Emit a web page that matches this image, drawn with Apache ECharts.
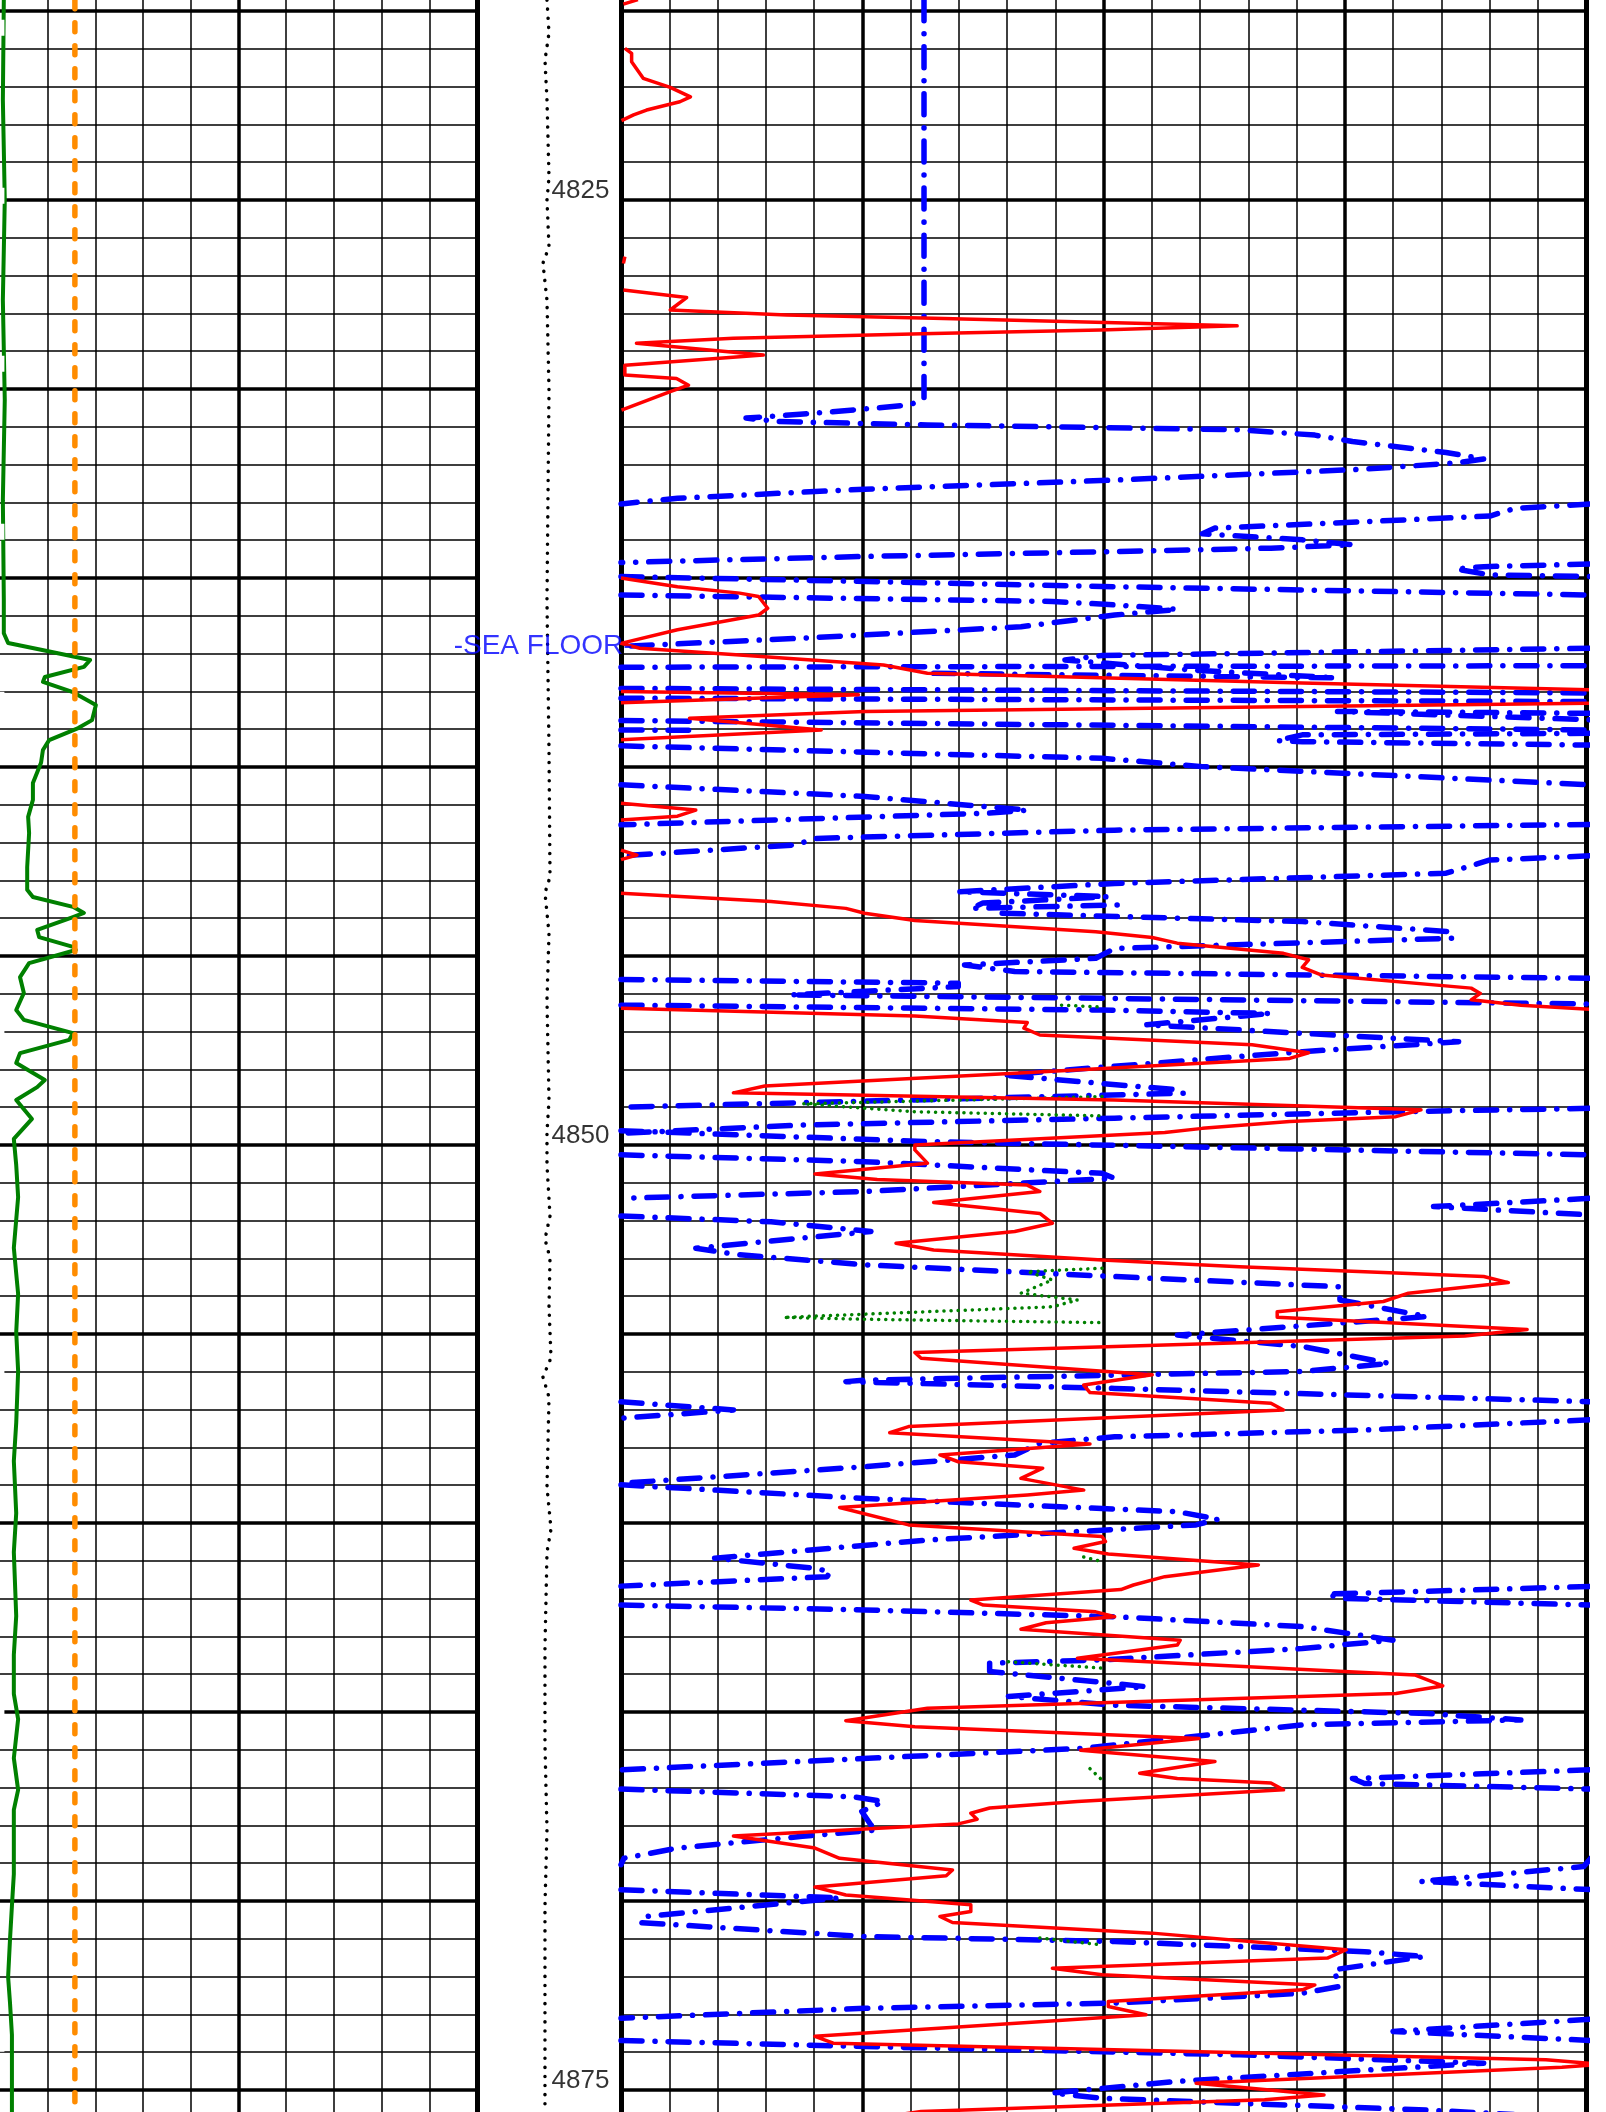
<!DOCTYPE html>
<html>
<head>
<meta charset="utf-8">
<script src="https://cdn.jsdelivr.net/npm/echarts@6/dist/echarts.min.js"></script>
<style>
  html, body { margin: 0; padding: 0; background: #ffffff; overflow: hidden; width: 1606px; height: 2112px; }
  #log { position: absolute; left: 0; width: 1606px; }
</style>
</head>
<body>
<div id="log"></div>
<script>
// Depth window (ft) and annotated depths
const depthTop = 4815;
const depthBottom = 4880;
const depthLabels = [4825, 4850, 4875];
const seaFloorDepth = 4836.8;

// Left track (10 divisions): green curve, orange reference, white trace
const greenLeft = [
  [0.08,4819.71],[0.06,4822.35],[0.1,4825],[0.06,4827.65],[0.1,4830.29],[0.06,4832.94],[0.08,4835.58],
  [0.08,4836.46],[0.17,4836.72],[0.86,4836.9],[1.89,4837.17],[1.76,4837.35],[0.94,4837.62],[0.9,4837.75],
  [1.53,4838.02],[2.01,4838.36],[1.93,4838.76],[1.64,4838.97],[1.03,4839.29],[0.9,4839.55],[0.86,4839.89],
  [0.69,4840.42],[0.69,4840.87],[0.59,4841.32],[0.61,4841.75],[0.57,4842.65],[0.57,4843.25],[0.69,4843.44],
  [1.53,4843.7],[1.76,4843.86],[1.53,4843.97],[0.78,4844.31],[0.82,4844.5],[1.53,4844.76],[1.59,4844.84],
  [0.61,4845.19],[0.42,4845.56],[0.5,4845.98],[0.34,4846.43],[0.5,4846.69],[1.53,4847.04],[1.45,4847.22],
  [0.42,4847.57],[0.34,4847.83],[0.94,4848.28],[0.78,4848.47],[0.34,4848.81],[0.67,4849.31],[0.29,4849.84],
  [0.34,4850.53],[0.38,4851.38],[0.29,4852.72],[0.38,4853.94],[0.34,4854.95],[0.38,4855.98],[0.34,4857.35],
  [0.29,4858.36],[0.34,4859.74],[0.29,4860.77],[0.34,4862.46],[0.29,4863.49],[0.29,4864.52],[0.38,4865.19],
  [0.29,4866.22],[0.38,4867.06],[0.29,4867.59],[0.29,4869.29],[0.25,4870.13],[0.21,4871.01],[0.17,4872.01],
  [0.21,4872.7],[0.25,4873.54],[0.25,4875.58]
];
const orangeLine = [[1.57,4819.7],[1.57,4875.6]];
const whiteTrace = [[0.04,4819.7],[0.04,4875.6]];

// Depth track: dotted curve (10 divisions across the track)
const depthTrackDots = [
  [4.86,4819.71],[5.0,4820.58],[4.72,4821.3],[4.86,4822.35],[5.0,4824.39],[4.86,4825],[5.0,4826.24],
  [4.58,4826.67],[4.86,4827.65],[5.0,4830.03],[4.86,4835.58],[5.0,4839.55],[5.07,4842.91],[4.72,4843.33],
  [5.0,4844.39],[4.86,4846.16],[5.0,4848.81],[4.86,4849.66],[4.86,4850.53],[5.07,4851.88],[4.72,4852.49],
  [5.07,4852.99],[5.0,4854.26],[5.14,4855.63],[4.58,4856.14],[5.0,4856.67],[4.86,4859.05],[5.14,4860.16],
  [4.86,4860.77],[4.72,4863.31],[4.72,4865.87],[4.86,4868.1],[4.72,4870.13],[4.72,4873.54],[4.72,4875.58]
];

// Right track (20 divisions): red curve, split where it leaves the track
const redSegments = [
  [[0.35,4819.7],[0.05,4819.82]],
  [[0.08,4820.99],[0.22,4821.12],[0.22,4821.34],[0.46,4821.78],[1.02,4822.02],[1.44,4822.27],[1.22,4822.4],
   [0.53,4822.62],[0.26,4822.75],[0.01,4822.9]],
  [[0.08,4826.5],[0.05,4826.68]],
  [[0.05,4827.38],[1.36,4827.58],[1.02,4827.91],[3.43,4828.04],[6.47,4828.13],[12.77,4828.33],[9.93,4828.44],
   [6.47,4828.53],[2.33,4828.66],[0.32,4828.79],[2.95,4829.1],[0.08,4829.37],[0.08,4829.63],[1.15,4829.72],
   [1.4,4829.9],[1.02,4830.07],[0.01,4830.56]],
  [[0,4835.0],[1.17,4835.23],[2.46,4835.4],[2.85,4835.49],[3.04,4835.8],[2.85,4835.98],[1.17,4836.37],[0,4836.73],
   [0.39,4836.86],[2.46,4837.04],[5.44,4837.3],[6.35,4837.52],[14.12,4837.78],[20.1,4837.96]],
  [[0,4838.0],[4.92,4838.09],[0,4838.3]],
  [[20.1,4838.31],[5.05,4838.53],[1.42,4838.71],[4.15,4839.02],[0,4839.28]],
  [[0,4840.96],[1.55,4841.14],[1.17,4841.3],[0,4841.4]],
  [[0,4842.2],[0.33,4842.33],[0,4842.45]],
  [[0,4843.34],[3.11,4843.56],[4.66,4843.74],[5.05,4843.87],[6.09,4844.06],[9.84,4844.36],[11.01,4844.51],
   [11.53,4844.66],[13.73,4844.93],[14.25,4845.1],[14.12,4845.3],[14.51,4845.5],[17.62,4845.85],[17.81,4845.99],
   [17.62,4846.16],[18.65,4846.3],[20.1,4846.41]],
  [[0,4846.38],[6.09,4846.59],[8.42,4846.76],[8.35,4846.91],[8.68,4847.09],[13.08,4847.35],[14.25,4847.56],
   [13.86,4847.71],[8.16,4848.1],[2.98,4848.44],[2.33,4848.62],[10.23,4848.81],[16.58,4849.07],[16.06,4849.25],
   [13.86,4849.38],[12.05,4849.56],[11.27,4849.67],[6.09,4850.0],[6.09,4850.13],[6.35,4850.48],[4.02,4850.77],
   [5.31,4850.91],[8.42,4851.06],[8.68,4851.23],[6.48,4851.52],[8.68,4851.81],[8.94,4852.07],[8.16,4852.29],
   [5.7,4852.6],[6.48,4852.78],[9.97,4853.04],[12.82,4853.22],[17.88,4853.48],[18.39,4853.64],[16.32,4853.92],
   [15.8,4854.14],[13.6,4854.41],[13.6,4854.56],[18.78,4854.88],[17.49,4855.05],[6.09,4855.49],[6.22,4855.64],
   [11.01,4856.08],[9.59,4856.35],[9.72,4856.55],[13.47,4856.83],[13.73,4857.01],[5.96,4857.45],[5.57,4857.61],
   [9.72,4857.91],[6.61,4858.2],[6.99,4858.38],[8.74,4858.55],[8.29,4858.82],[9.59,4859.13],[8.42,4859.26],
   [4.53,4859.59],[5.96,4860.05],[9.97,4860.36],[10.04,4860.49],[9.39,4860.67],[10.1,4860.82],[13.21,4861.11],
   [11.27,4861.42],[10.62,4861.64],[10.36,4861.76],[7.25,4862.04],[7.51,4862.17],[9.84,4862.35],[10.23,4862.48],
   [8.81,4862.64],[8.29,4862.81],[11.59,4863.1],[11.53,4863.23],[9.46,4863.58],[16.45,4864.02],[17.03,4864.31],
   [16.06,4864.51],[6.35,4864.9],[4.66,4865.23],[6.09,4865.39],[11.98,4865.7],[9.52,4866.01],[12.31,4866.31],
   [10.75,4866.62],[11.53,4866.76],[13.47,4866.88],[13.73,4867.06],[9.46,4867.37],[7.64,4867.54],[7.25,4867.68],
   [7.38,4867.84],[6.99,4867.96],[2.33,4868.28],[4.02,4868.6],[4.53,4868.87],[6.87,4869.18],[6.74,4869.33],
   [4.02,4869.63],[4.66,4869.84],[7.25,4870.1],[7.25,4870.28],[6.61,4870.41],[6.87,4870.57],[11.01,4870.85],
   [15.03,4871.29],[14.64,4871.51],[8.94,4871.78],[9.97,4871.95],[14.38,4872.22],[14.12,4872.35],[10.1,4872.66],
   [10.1,4872.79],[10.88,4873.01],[9.07,4873.16],[4.02,4873.58],[4.4,4873.76],[19.17,4874.2],[20.3,4874.32],
   [19.5,4874.4],[11.92,4874.82],[14.57,4875.13],[13.34,4875.26],[6.22,4875.57],[5.5,4875.7]]
];

// Right track: blue dash-dot curve, split where it wraps across the track
const blueSegments = [
  [[6.28,4819.7],[6.28,4830.25],[5.99,4830.42],[4.95,4830.54],[3.71,4830.67],[2.59,4830.77],[3.24,4830.86],
   [6.35,4830.95],[12.82,4831.08],[14.38,4831.22],[15.16,4831.39],[17.1,4831.68],[17.88,4831.85],[17.36,4831.95],
   [15.41,4832.12],[10.23,4832.41],[5.05,4832.65],[1.17,4832.89],[0,4833.04]],
  [[20.1,4833.04],[18.52,4833.16],[18.01,4833.36],[15.41,4833.51],[12.31,4833.68],[12.05,4833.83],[14.12,4833.99],
   [15.16,4834.12],[13.47,4834.21],[10.23,4834.3],[5.05,4834.43],[0,4834.59]],
  [[20.1,4834.63],[17.88,4834.7],[17.3,4834.76],[18.01,4834.92],[20.1,4834.96]],
  [[0,4834.96],[10.23,4835.23],[20.1,4835.45]],
  [[0,4835.45],[8.94,4835.62],[10.23,4835.71],[11.53,4835.83],[10.23,4835.98],[8.29,4836.29],[3.76,4836.59],[0,4836.81]],
  [[20.1,4836.86],[9.97,4837.05],[9.2,4837.17],[12.0,4837.45],[14.8,4837.64],[6.3,4837.52]],
  [[0,4837.36],[20.1,4837.32]],
  [[0,4837.92],[20.1,4838.04]],
  [[0,4838.18],[20.1,4838.27]],
  [[20.1,4838.58],[14.85,4838.53],[20.1,4838.75]],
  [[0,4838.77],[20.1,4839.02]],
  [[0,4839.02],[1.4,4839.03]],
  [[20.1,4839.11],[14.12,4839.15],[13.6,4839.3],[14.12,4839.33],[20.1,4839.42]],
  [[0,4839.44],[9.97,4839.77],[12.05,4839.99],[20.1,4840.47]],
  [[0,4840.47],[5.05,4840.78],[8.42,4841.14],[7.64,4841.22],[0,4841.53]],
  [[20.1,4841.52],[10.23,4841.67],[4.02,4841.89],[3.63,4842.06],[0,4842.35]],
  [[20.1,4842.35],[18.01,4842.46],[17.1,4842.81],[10.23,4843.08],[6.99,4843.3],[10.1,4843.43],[7.5,4843.6],
   [7.25,4843.74],[10.3,4843.65]],
  [[7.9,4843.87],[14.12,4844.09],[17.23,4844.36],[17.23,4844.53],[10.23,4844.8],[9.84,4845.06],[7.12,4845.24],
   [8.16,4845.41],[20.1,4845.59]],
  [[0,4845.62],[6.99,4845.72],[6.99,4845.81],[3.5,4846.03],[9.97,4846.12],[20.1,4846.27]],
  [[0,4846.3],[9.97,4846.43],[13.47,4846.52],[10.88,4846.82],[17.36,4847.27],[14.12,4847.53],[7.9,4848.15],
   [11.53,4848.54],[11.66,4848.63],[0,4849.0]],
  [[20.1,4849.03],[16.06,4849.12],[10.23,4849.29],[3.76,4849.47],[0,4849.69]],
  [[0,4849.62],[6.35,4849.91],[20.1,4850.26]],
  [[0,4850.26],[5.05,4850.44],[9.97,4850.75],[10.23,4850.88],[5.05,4851.23],[0,4851.41]],
  [[20.1,4851.41],[16.84,4851.63],[20.1,4851.85]],
  [[0,4851.88],[3.11,4852.03],[5.18,4852.29],[1.55,4852.73],[2.4,4852.9],[5.05,4853.17],[10.23,4853.48],
   [14.9,4853.75],[14.9,4854.1],[16.71,4854.54],[11.53,4855.03],[14.12,4855.33],[15.93,4855.78],[14.12,4855.99],
   [5.05,4856.22],[4.66,4856.26],[10.23,4856.44],[20.1,4856.79]],
  [[0,4856.79],[2.33,4857.01],[0,4857.23]],
  [[20.1,4857.27],[15.41,4857.54],[10.23,4857.72],[8.68,4857.89],[8.16,4858.2],[5.05,4858.51],[0,4858.95]],
  [[0,4858.99],[5.05,4859.35],[11.53,4859.7],[12.37,4859.9],[11.92,4860.05],[6.35,4860.45],[1.94,4860.93],
   [4.02,4861.2],[4.34,4861.29],[4.27,4861.42],[0,4861.67]],
  [[20.1,4861.68],[14.64,4861.88],[14.9,4861.99],[20.1,4862.17]],
  [[0,4862.17],[5.05,4862.3],[10.23,4862.48],[14.12,4862.74],[16.0,4863.1],[14.12,4863.32],[9.97,4863.62],
   [7.64,4863.71],[7.64,4863.93],[10.88,4864.33],[8.03,4864.59],[10.23,4864.82],[16.71,4865.04],[18.65,4865.21],
   [14.12,4865.34],[9.59,4865.96],[0,4866.53]],
  [[20.1,4866.53],[15.16,4866.76],[15.41,4866.89],[20.1,4867.04]],
  [[0,4867.04],[4.79,4867.24],[5.44,4867.37],[4.99,4867.63],[5.18,4867.99],[5.31,4868.12],[3.76,4868.29],
   [1.17,4868.6],[0.06,4868.87],[0,4869.04]],
  [[20.1,4868.87],[19.95,4869.09],[16.58,4869.48],[20.1,4869.7]],
  [[0,4869.7],[4.53,4869.92],[0.52,4870.41],[0.39,4870.57],[5.05,4870.94],[10.23,4871.07],[15.41,4871.34],
   [16.65,4871.47],[14.77,4871.82],[14.9,4872.26],[14.12,4872.44],[10.23,4872.7],[5.05,4872.84],[0,4873.1]],
  [[20.1,4873.13],[16.0,4873.45],[20.1,4873.69]],
  [[0,4873.69],[5.05,4873.85],[12.82,4874.07],[17.88,4874.29],[11.53,4874.77],[8.94,4875.08],[9.97,4875.22],
   [16.71,4875.53],[18.5,4875.65]]
];

// Right track: green dotted curve pieces
const greenDotSegments = [
  [[9.13,4846.3],[9.97,4846.35]],
  [[9.97,4848.72],[3.76,4848.91],[6.09,4849.12],[9.97,4849.23]],
  [[9.97,4853.26],[8.42,4853.35],[8.94,4853.57],[8.29,4853.92],[9.46,4854.1],[8.94,4854.28],[3.37,4854.56],
   [5.05,4854.61],[9.97,4854.7]],
  [[9.59,4860.9],[9.97,4861.02]],
  [[8.03,4863.67],[9.97,4863.84]],
  [[9.72,4866.5],[9.97,4866.8]],
  [[8.68,4870.98],[9.97,4871.16]]
];

// ---- layout: 37.8 px per foot, 4825 ft sits 200 px below the top of the page
const pxPerFoot = 37.8;
const plotHeight = (depthBottom - depthTop) * pxPerFoot;
const plotOffset = 200 - (4825 - depthTop) * pxPerFoot;   // negative: the frame starts above the page
const FONT = '"Liberation Sans", Arial, sans-serif';

const holder = document.getElementById('log');
holder.style.top = plotOffset + 'px';
holder.style.height = plotHeight + 'px';

const thickLine = { color: '#000', width: 3.5 };
const thinLine = { color: '#000', width: 1.5 };

function gridAxisX(idx, max) {
  return {
    gridIndex: idx, type: 'value', min: 0, max: max, interval: 5,
    axisLine: { show: false }, axisTick: { show: false }, axisLabel: { show: false },
    splitLine: { show: true, showMinLine: idx !== 0, lineStyle: thickLine },
    minorTick: { show: false, splitNumber: 5 },
    minorSplitLine: { show: true, lineStyle: thinLine }
  };
}
function depthAxis(idx, opts) {
  return Object.assign({
    gridIndex: idx, type: 'value', inverse: true, min: depthTop, max: depthBottom, interval: 5,
    axisLine: { show: false, onZero: false }, axisTick: { show: false }, axisLabel: { show: false },
    splitLine: { show: false }
  }, opts);
}
const gridLines = {
  splitLine: { show: true, lineStyle: thickLine },
  minorTick: { show: false, splitNumber: 5 },
  minorSplitLine: { show: true, lineStyle: thinLine }
};
const edge = { show: true, onZero: false, lineStyle: { color: '#000', width: 5 } };

function curve(data, xi, yi, lineStyle, z) {
  return {
    type: 'line', xAxisIndex: xi, yAxisIndex: yi, data: data,
    symbol: 'none', showSymbol: false, clip: true, silent: true, animation: false,
    lineStyle: lineStyle, z: z
  };
}

const series = [];
series.push(curve(greenLeft, 0, 0, { color: '#008000', width: 4, join: 'round' }, 3));
series.push(curve(orangeLine, 0, 0, { color: '#ff8c00', width: 5.5, type: [9, 14], cap: 'round' }, 3));
series.push(curve(whiteTrace, 0, 0, { color: '#ffffff', width: 5, type: [16, 152], dashOffset: 148 }, 4));
series.push(curve(depthTrackDots, 1, 2, { color: '#000', width: 3.5, type: [0.1, 9], cap: 'round' }, 3));
blueSegments.forEach(seg => series.push(curve(seg, 2, 3,
  { color: '#0000ff', width: 5.5, type: [21, 13, 0.1, 13], cap: 'round', join: 'round' }, 3)));
greenDotSegments.forEach(seg => series.push(curve(seg, 2, 3,
  { color: '#008000', width: 3.5, type: [0.1, 7], cap: 'round' }, 4)));
redSegments.forEach(seg => series.push(curve(seg, 2, 3,
  { color: '#ff0000', width: 3.5, join: 'round' }, 5)));

// depth numbers in the depth track
series.push({
  type: 'scatter', xAxisIndex: 1, yAxisIndex: 2, silent: true, animation: false, z: 6,
  data: depthLabels.map(d => [5.14, d]),
  symbolSize: 1, itemStyle: { color: 'rgba(0,0,0,0)' },
  label: {
    show: true, position: 'right', distance: 0, offset: [0, -9],
    formatter: p => String(p.value[1]),
    color: '#000', fontSize: 26, fontFamily: FONT
  }
});
// sea floor marker
series.push({
  type: 'scatter', xAxisIndex: 2, yAxisIndex: 3, silent: true, animation: false, z: 6,
  data: [[0.25, seaFloorDepth]],
  symbolSize: 1, itemStyle: { color: 'rgba(0,0,0,0)' },
  label: {
    show: true, position: 'left', distance: 0,
    formatter: '-SEA FLOOR-',
    color: '#0000ff', fontSize: 28, fontFamily: FONT
  }
});

const chart = echarts.init(holder, null, { renderer: 'canvas', width: 1606, height: plotHeight });
chart.setOption({
  animation: false,
  backgroundColor: '#ffffff',
  grid: [
    { left: 0, top: 0, width: 477, height: plotHeight },
    { left: 477, top: 0, width: 144, height: plotHeight },
    { left: 621, top: 0, width: 965, height: plotHeight }
  ],
  xAxis: [
    gridAxisX(0, 10),
    { gridIndex: 1, type: 'value', min: 0, max: 10, show: false },
    gridAxisX(2, 20)
  ],
  yAxis: [
    depthAxis(0, gridLines),
    depthAxis(0, { position: 'right', axisLine: edge }),
    depthAxis(1, { show: false }),
    depthAxis(2, Object.assign({ position: 'left', axisLine: edge }, gridLines)),
    depthAxis(2, { position: 'right', axisLine: edge })
  ],
  series: series
});
</script>
</body>
</html>
